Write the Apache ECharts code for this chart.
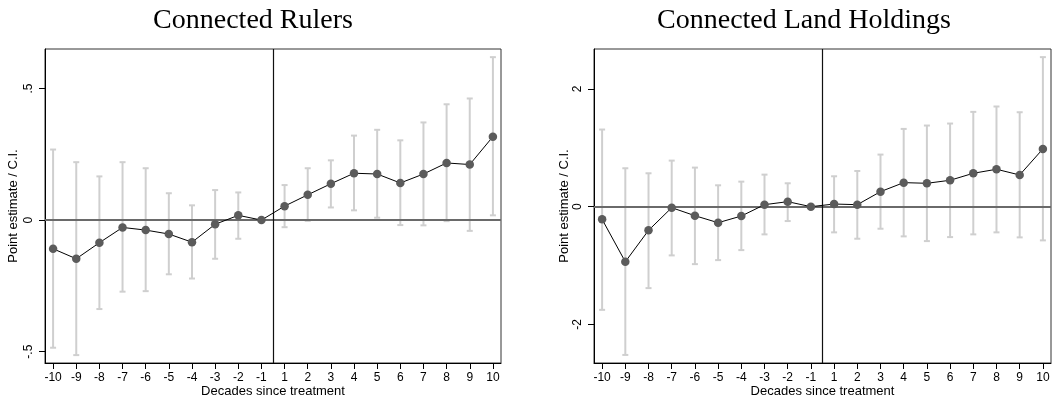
<!DOCTYPE html>
<html>
<head>
<meta charset="utf-8">
<script src="https://cdn.jsdelivr.net/npm/echarts@6/dist/echarts.min.js"></script>
<style>
  html, body { margin: 0; padding: 0; background: #fff; }
  #chart { width: 1056px; height: 402px; }
</style>
</head>
<body>
<div id="chart"></div>
<script>
// Event-study estimates by decade relative to treatment (decade -1 is the reference)
const decades = [-10, -9, -8, -7, -6, -5, -4, -3, -2, -1, 1, 2, 3, 4, 5, 6, 7, 8, 9, 10];

const rulersEst = [-0.109, -0.147, -0.086, -0.028, -0.038, -0.053, -0.084, -0.016, 0.018, 0,
                   0.053, 0.096, 0.138, 0.178, 0.175, 0.141, 0.175, 0.217, 0.211, 0.317];
const rulersLo  = [-0.485, -0.513, -0.338, -0.272, -0.270, -0.206, -0.222, -0.147, -0.071, null,
                   -0.027, -0.003, 0.048, 0.037, 0.009, -0.019, -0.020, -0.004, -0.041, 0.018];
const rulersHi  = [0.268, 0.220, 0.166, 0.220, 0.197, 0.102, 0.056, 0.114, 0.105, null,
                   0.133, 0.197, 0.227, 0.321, 0.343, 0.303, 0.371, 0.440, 0.462, 0.619];

const landEst = [-0.215, -0.935, -0.402, -0.017, -0.153, -0.272, -0.159, 0.034, 0.085, 0,
                 0.045, 0.034, 0.255, 0.408, 0.397, 0.448, 0.567, 0.635, 0.538, 0.980];
const landLo  = [-1.751, -2.516, -1.382, -0.827, -0.975, -0.907, -0.737, -0.470, -0.244, null,
                 -0.436, -0.544, -0.374, -0.504, -0.584, -0.516, -0.470, -0.436, -0.521, -0.572];
const landHi  = [1.309, 0.652, 0.567, 0.782, 0.663, 0.363, 0.425, 0.544, 0.397, null,
                 0.516, 0.606, 0.884, 1.320, 1.377, 1.411, 1.609, 1.700, 1.603, 2.538];

const rulersTicks = [-0.5, 0, 0.5];
const landTicks = [-2, 0, 2];
const titles = ['Connected Rulers', 'Connected Land Holdings'];

// positions 1..20 on the x scale; treatment falls between the last pre and first post decade
const positions = decades.map((d, i) => i + 1);
const treatmentAt = decades.indexOf(-1) + 1.5;

const FONT = '"Liberation Sans", Arial, sans-serif';
const SERIF = '"Liberation Serif", "Times New Roman", serif';

function stataNum(v) {
  if (v === 0) return '0';
  const s = String(Math.abs(v)).replace(/^0\./, '.');
  return (v < 0 ? '-' : '') + s;
}

function ciData(lo, hi) {
  const out = [];
  positions.forEach((p, i) => {
    if (lo[i] !== null && hi[i] !== null) out.push([p, lo[i], hi[i]]);
  });
  return out;
}

function renderCI(params, api) {
  const x = api.value(0);
  const top = api.coord([x, api.value(2)]);
  const bot = api.coord([x, api.value(1)]);
  const half = 3;
  const style = { stroke: '#cfcfcf', lineWidth: 2 };
  return {
    type: 'group',
    children: [
      { type: 'line', shape: { x1: top[0], y1: top[1], x2: bot[0], y2: bot[1] }, style },
      { type: 'line', shape: { x1: top[0] - half, y1: top[1], x2: top[0] + half, y2: top[1] }, style },
      { type: 'line', shape: { x1: bot[0] - half, y1: bot[1], x2: bot[0] + half, y2: bot[1] }, style }
    ]
  };
}

function xAxisFor(gridIndex) {
  return {
    type: 'value', gridIndex, min: 0.65, max: 20.35,
    name: 'Decades since treatment', nameLocation: 'middle', nameGap: 22,
    nameMoveOverlap: false,
    nameTextStyle: { fontFamily: FONT, fontSize: 13, color: '#000' },
    splitLine: { show: false },
    axisLine: { onZero: false, lineStyle: { color: '#000', width: 1 } },
    axisTick: { customValues: positions, length: 6, lineStyle: { color: '#000' } },
    axisLabel: {
      customValues: positions, margin: 9,
      fontFamily: FONT, fontSize: 12, color: '#000',
      formatter: v => String(decades[Math.round(v) - 1])
    }
  };
}

function yAxisFor(gridIndex, min, max, ticks, gap) {
  return {
    type: 'value', gridIndex, min, max,
    name: 'Point estimate / C.I.', nameLocation: 'middle', nameGap: gap,
    nameMoveOverlap: false,
    nameTextStyle: { fontFamily: FONT, fontSize: 13, color: '#000' },
    splitLine: { show: false },
    axisLine: { onZero: false, lineStyle: { color: '#000', width: 1 } },
    axisTick: { customValues: ticks, length: 6, lineStyle: { color: '#000' } },
    axisLabel: {
      customValues: ticks, rotate: 90, margin: 10,
      fontFamily: FONT, fontSize: 12, color: '#000',
      formatter: v => stataNum(v)
    }
  };
}

function seriesFor(idx, est, lo, hi) {
  return [
    {
      type: 'custom', xAxisIndex: idx, yAxisIndex: idx,
      renderItem: renderCI, data: ciData(lo, hi), silent: true
    },
    {
      type: 'line', xAxisIndex: idx, yAxisIndex: idx, data: [], silent: true,
      markLine: {
        symbol: 'none', silent: true, label: { show: false },
        data: [
          { yAxis: 0, lineStyle: { color: '#6a6a6a', width: 2, type: 'solid' } },
          { xAxis: treatmentAt, lineStyle: { color: '#111', width: 1.2, type: 'solid' } }
        ]
      }
    },
    {
      type: 'line', xAxisIndex: idx, yAxisIndex: idx,
      data: positions.map((p, i) => [p, est[i]]),
      symbol: 'circle', symbolSize: 8.5,
      itemStyle: { color: '#5b5b5b' },
      lineStyle: { color: '#000', width: 1 },
      z: 5
    }
  ];
}

const chart = echarts.init(document.getElementById('chart'), null, { renderer: 'canvas' });
chart.setOption({
  animation: false,
  backgroundColor: '#fff',
  title: [
    { text: titles[0], left: 248, top: 2, textAlign: 'center',
      textStyle: { fontFamily: SERIF, fontSize: 28, fontWeight: 'normal', color: '#000' } },
    { text: titles[1], left: 799, top: 2, textAlign: 'center',
      textStyle: { fontFamily: SERIF, fontSize: 28, fontWeight: 'normal', color: '#000' } }
  ],
  grid: [
    { left: 45, right: 555, top: 49, bottom: 39, show: true, borderColor: '#333', borderWidth: 1,
      backgroundColor: '#fff', outerBoundsMode: 'none', containLabel: false },
    { left: 594, right: 5, top: 49, bottom: 39, show: true, borderColor: '#333', borderWidth: 1,
      backgroundColor: '#fff', outerBoundsMode: 'none', containLabel: false }
  ],
  xAxis: [xAxisFor(0), xAxisFor(1)],
  yAxis: [
    yAxisFor(0, -0.543, 0.65, rulersTicks, 25),
    yAxisFor(1, -2.653, 2.676, landTicks, 23)
  ],
  series: [
    ...seriesFor(0, rulersEst, rulersLo, rulersHi),
    ...seriesFor(1, landEst, landLo, landHi)
  ]
});
</script>
</body>
</html>
